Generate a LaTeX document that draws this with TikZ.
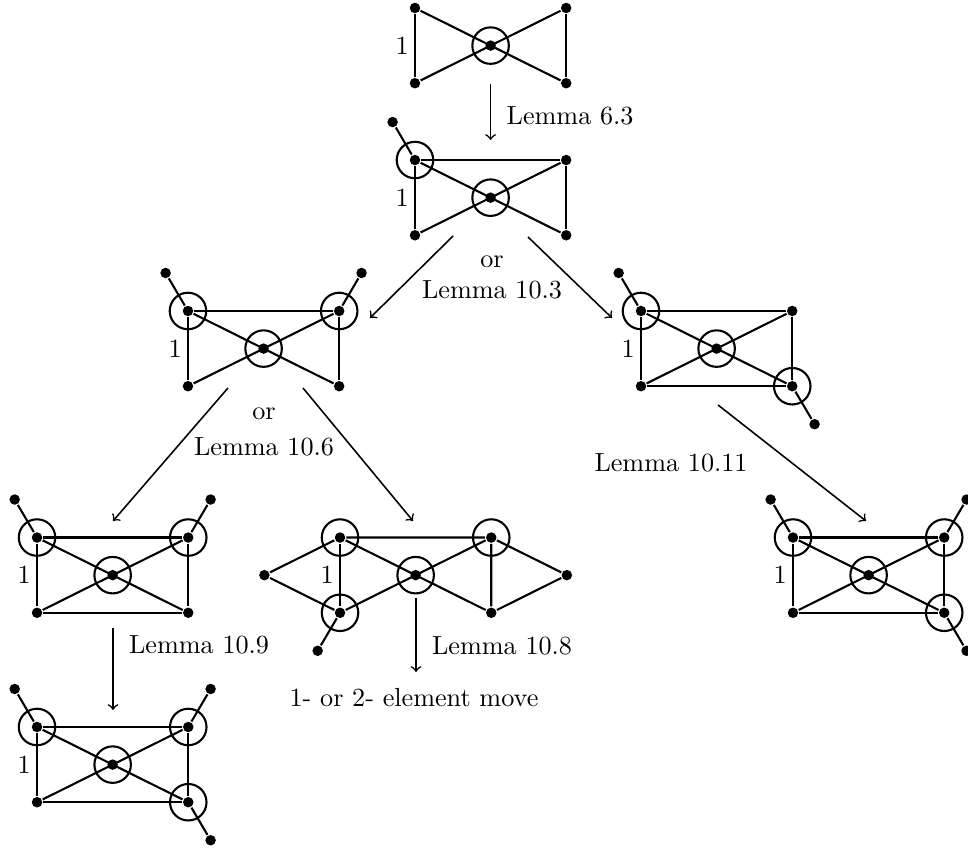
\documentclass[tikz,border=0pt]{standalone}
\begin{document}
\begin{tikzpicture}[thick]
  \tikzset{
    vtx/.style={circle, fill, inner sep=0pt, minimum size=4pt},
    ring/.style={circle, draw, inner sep=0pt, minimum size=4.9mm},
    move/.style={->, semithick},
    one/.style={left, inner sep=2pt}
  }
  \useasboundingbox (0,0) rectangle (12.993,-11.383);

  % first bow tie
  \begin{scope}[shift={(5.57,-0.107)}]
    \node[vtx] (g1tl) at (0,0) {};
    \node[vtx] (g1tr) at (2.03,0) {};
    \node[vtx] (g1bl) at (0,-1.01) {};
    \node[vtx] (g1br) at (2.03,-1.01) {};
    \node[vtx] (g1x)  at (1.015,-0.505) {};
  \end{scope}
  \node[ring] (r1x) at (g1x) {};
  \draw (g1tl) -- node[one] (n1) {1} (g1bl);
  \draw (g1tr) -- (g1br);
  \draw (g1tl) -- (g1br);
  \draw (g1tr) -- (g1bl);

  % after Lemma 6.3
  \begin{scope}[shift={(5.57,-2.148)}]
    \node[vtx] (g2tl) at (0,0) {};
    \node[vtx] (g2tr) at (2.03,0) {};
    \node[vtx] (g2bl) at (0,-1.01) {};
    \node[vtx] (g2br) at (2.03,-1.01) {};
    \node[vtx] (g2x)  at (1.015,-0.505) {};
    \node[vtx] (g2p1) at (-0.3,0.51) {};
  \end{scope}
  \node[ring] (r2tl) at (g2tl) {};
  \node[ring] (r2x) at (g2x) {};
  \draw (g2tl) -- node[one] (n2) {1} (g2bl);
  \draw (g2tl) -- (g2tr) -- (g2br);
  \draw (g2tl) -- (g2br);
  \draw (g2tr) -- (g2bl);
  \draw (g2tl) -- (g2p1);

  % left, middle row
  \begin{scope}[shift={(2.523,-4.174)}]
    \node[vtx] (g3tl) at (0,0) {};
    \node[vtx] (g3tr) at (2.03,0) {};
    \node[vtx] (g3bl) at (0,-1.01) {};
    \node[vtx] (g3br) at (2.03,-1.01) {};
    \node[vtx] (g3x)  at (1.015,-0.505) {};
    \node[vtx] (g3p1) at (-0.3,0.51) {};
    \node[vtx] (g3p2) at (2.33,0.51) {};
  \end{scope}
  \node[ring] (r3tl) at (g3tl) {};
  \node[ring] (r3tr) at (g3tr) {};
  \node[ring] (r3x) at (g3x) {};
  \draw (g3tl) -- node[one] (n3) {1} (g3bl);
  \draw (g3tl) -- (g3tr) -- (g3br);
  \draw (g3tl) -- (g3br);
  \draw (g3tr) -- (g3bl);
  \draw (g3tl) -- (g3p1);
  \draw (g3tr) -- (g3p2);

  % right, middle row
  \begin{scope}[shift={(8.604,-4.174)}]
    \node[vtx] (g4tl) at (0,0) {};
    \node[vtx] (g4tr) at (2.03,0) {};
    \node[vtx] (g4bl) at (0,-1.01) {};
    \node[vtx] (g4br) at (2.03,-1.01) {};
    \node[vtx] (g4x)  at (1.015,-0.505) {};
    \node[vtx] (g4p1) at (-0.3,0.51) {};
    \node[vtx] (g4p2) at (2.33,-1.52) {};
  \end{scope}
  \node[ring] (r4tl) at (g4tl) {};
  \node[ring] (r4br) at (g4br) {};
  \node[ring] (r4x) at (g4x) {};
  \draw (g4tl) -- node[one] (n4) {1} (g4bl);
  \draw (g4tl) -- (g4tr) -- (g4br) -- (g4bl);
  \draw (g4tl) -- (g4br);
  \draw (g4tr) -- (g4bl);
  \draw (g4tl) -- (g4p1);
  \draw (g4br) -- (g4p2);

  % bottom row, left
  \begin{scope}[shift={(0.497,-7.215)}]
    \node[vtx] (g5tl) at (0,0) {};
    \node[vtx] (g5tr) at (2.03,0) {};
    \node[vtx] (g5bl) at (0,-1.01) {};
    \node[vtx] (g5br) at (2.03,-1.01) {};
    \node[vtx] (g5x)  at (1.015,-0.505) {};
    \node[vtx] (g5p1) at (-0.3,0.51) {};
    \node[vtx] (g5p2) at (2.33,0.51) {};
  \end{scope}
  \node[ring] (r5tl) at (g5tl) {};
  \node[ring] (r5tr) at (g5tr) {};
  \node[ring] (r5x) at (g5x) {};
  \draw (g5tl) -- node[one] (n5) {1} (g5bl);
  \draw (g5tl) -- (g5tr) -- (g5br) -- (g5bl);
  \draw (g5tl) -- (g5br);
  \draw (g5tr) -- (g5bl);
  \draw (g5tl) -- (g5p1);
  \draw (g5tr) -- (g5p2);

  % bottom row, middle
  \begin{scope}[shift={(4.564,-7.215)}]
    \node[vtx] (g6tl) at (0,0) {};
    \node[vtx] (g6tr) at (2.03,0) {};
    \node[vtx] (g6bl) at (0,-1.01) {};
    \node[vtx] (g6br) at (2.03,-1.01) {};
    \node[vtx] (g6x)  at (1.015,-0.505) {};
    \node[vtx] (g6fl) at (-1.015,-0.505) {};
    \node[vtx] (g6fr) at (3.045,-0.505) {};
    \node[vtx] (g6p1) at (-0.3,-1.52) {};
  \end{scope}
  \node[ring] (r6tl) at (g6tl) {};
  \node[ring] (r6tr) at (g6tr) {};
  \node[ring] (r6bl) at (g6bl) {};
  \node[ring] (r6x) at (g6x) {};
  \draw (g6tl) -- node[one] (n6) {1} (g6bl);
  \draw (g6bl) -- (g6fl) -- (g6tl) -- (g6tr) -- (g6fr) -- (g6br) -- (g6tr);
  \draw (g6tl) -- (g6br);
  \draw (g6tr) -- (g6bl);
  \draw (g6bl) -- (g6p1);

  % bottom row, right
  \begin{scope}[shift={(10.644,-7.215)}]
    \node[vtx] (g7tl) at (0,0) {};
    \node[vtx] (g7tr) at (2.03,0) {};
    \node[vtx] (g7bl) at (0,-1.01) {};
    \node[vtx] (g7br) at (2.03,-1.01) {};
    \node[vtx] (g7x)  at (1.015,-0.505) {};
    \node[vtx] (g7p1) at (-0.3,0.51) {};
    \node[vtx] (g7p2) at (2.33,0.51) {};
    \node[vtx] (g7p3) at (2.33,-1.52) {};
  \end{scope}
  \node[ring] (r7tl) at (g7tl) {};
  \node[ring] (r7tr) at (g7tr) {};
  \node[ring] (r7br) at (g7br) {};
  \node[ring] (r7x) at (g7x) {};
  \draw (g7tl) -- node[one] (n7) {1} (g7bl);
  \draw (g7tl) -- (g7tr) -- (g7br) -- (g7bl);
  \draw (g7tl) -- (g7br);
  \draw (g7tr) -- (g7bl);
  \draw (g7tl) -- (g7p1);
  \draw (g7tr) -- (g7p2);
  \draw (g7br) -- (g7p3);

  % after Lemma 10.9
  \begin{scope}[shift={(0.497,-9.758)}]
    \node[vtx] (g8tl) at (0,0) {};
    \node[vtx] (g8tr) at (2.03,0) {};
    \node[vtx] (g8bl) at (0,-1.01) {};
    \node[vtx] (g8br) at (2.03,-1.01) {};
    \node[vtx] (g8x)  at (1.015,-0.505) {};
    \node[vtx] (g8p1) at (-0.3,0.51) {};
    \node[vtx] (g8p2) at (2.33,0.51) {};
    \node[vtx] (g8p3) at (2.33,-1.52) {};
  \end{scope}
  \node[ring] (r8tl) at (g8tl) {};
  \node[ring] (r8tr) at (g8tr) {};
  \node[ring] (r8br) at (g8br) {};
  \node[ring] (r8x) at (g8x) {};
  \draw (g8tl) -- node[one] (n8) {1} (g8bl);
  \draw (g8tl) -- (g8tr) -- (g8br) -- (g8bl);
  \draw (g8tl) -- (g8br);
  \draw (g8tr) -- (g8bl);
  \draw (g8tl) -- (g8p1);
  \draw (g8tr) -- (g8p2);
  \draw (g8br) -- (g8p3);

  % moves
  \coordinate (a1s) at (6.585,-1.128);
  \coordinate (a1e) at (6.585,-1.879);
  \coordinate (a2s) at (6.081,-3.168);
  \coordinate (a2e) at (4.966,-4.268);
  \coordinate (a3s) at (7.087,-3.181);
  \coordinate (a3e) at (8.215,-4.268);
  \coordinate (a4s) at (3.06,-5.208);
  \coordinate (a4e) at (1.517,-6.993);
  \coordinate (a5s) at (4.067,-5.208);
  \coordinate (a5e) at (5.544,-6.993);
  \coordinate (a6s) at (9.638,-5.436);
  \coordinate (a6e) at (11.624,-6.993);
  \coordinate (a7s) at (1.517,-8.43);
  \coordinate (a7e) at (1.517,-9.53);
  \coordinate (a8s) at (5.584,-8.027);
  \coordinate (a8e) at (5.584,-9.02);

  \draw[move] (a1s) -- node[right=2.5pt, pos=0.57] (l63) {Lemma 6.3} (a1e);
  \draw[move] (a2s) -- (a2e);
  \draw[move] (a3s) -- (a3e);
  \draw[move] (a4s) -- (a4e);
  \draw[move] (a5s) -- (a5e);
  \draw[move] (a6s) -- (a6e);
  \draw[move] (a7s) -- node[right=2.5pt, pos=0.21] (l109) {Lemma 10.9} (a7e);
  \draw[move] (a8s) -- node[right=2.5pt, pos=0.64] (l108) {Lemma 10.8} (a8e);

  \node (or3) at (6.604,-3.517) {or};
  \node (l103) at (6.604,-3.893) {Lemma 10.3};
  \node (or6) at (3.544,-5.557) {or};
  \node (l106) at (3.544,-6.0) {Lemma 10.6};
  \node (l1011) at (9.007,-6.215) {Lemma 10.11};
  \node (mv) at (5.557,-9.369) {1- or 2- element move};
\end{tikzpicture}
\end{document}
